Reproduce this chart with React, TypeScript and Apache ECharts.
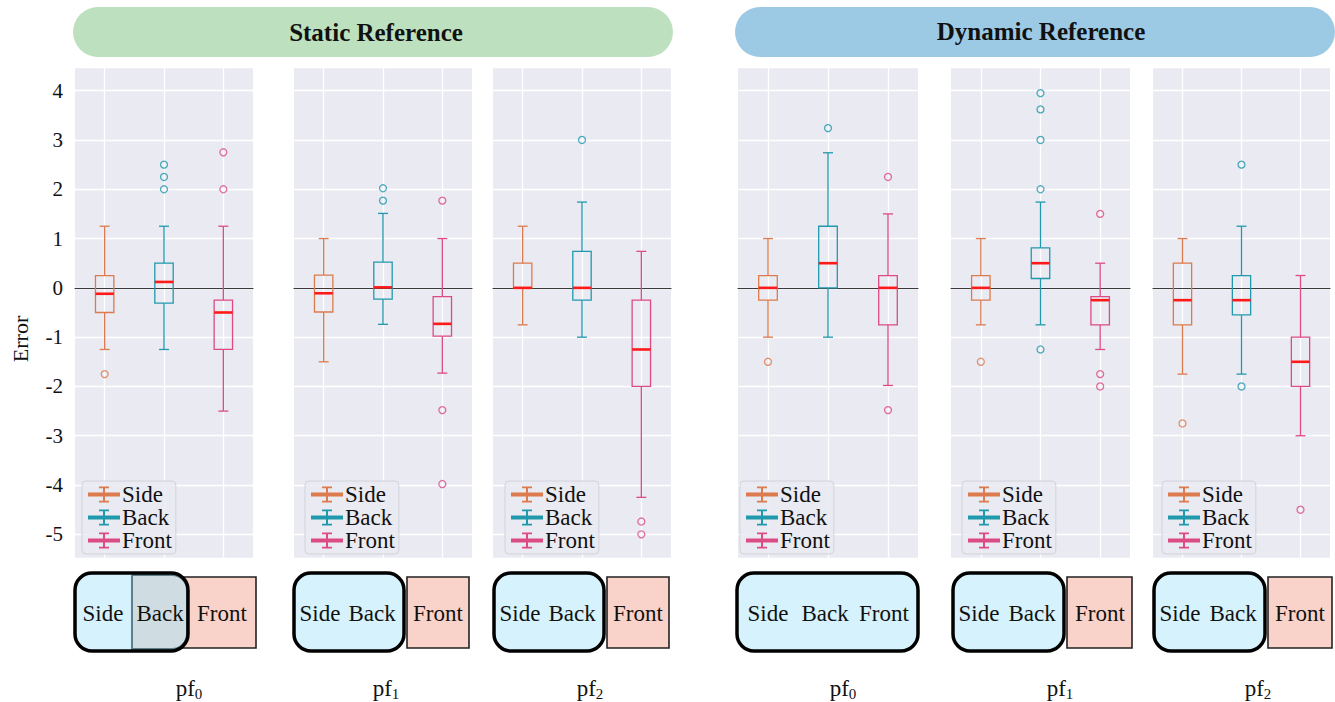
import React, { useEffect, useRef } from 'react';
import * as echarts from 'echarts';

// ---------------- data ----------------
const CATEGORIES = ['Side', 'Back', 'Front'];
const GROUP_TITLES = ['Static Reference', 'Dynamic Reference'];
const PANEL_SUBSCRIPTS = ['0', '1', '2', '0', '1', '2'];
const Y_MIN = -5.48;
const Y_MAX = 4.48;

// [min, Q1, median, Q3, max] for Side, Back, Front
const staticPf0Box = [
  [-1.25, -0.5, -0.12, 0.25, 1.25],
  [-1.25, -0.31, 0.12, 0.5, 1.25],
  [-2.5, -1.25, -0.5, -0.25, 1.25],
];
const staticPf0Outliers = [[-1.75], [2.0, 2.25, 2.5], [2.0, 2.75]];

const staticPf1Box = [
  [-1.5, -0.49, -0.11, 0.26, 1.0],
  [-0.74, -0.23, 0.01, 0.52, 1.51],
  [-1.73, -0.98, -0.73, -0.18, 1.0],
];
const staticPf1Outliers = [[], [1.77, 2.02], [1.77, -2.48, -3.98]];

const staticPf2Box = [
  [-0.75, 0.0, 0.0, 0.5, 1.25],
  [-1.0, -0.25, 0.0, 0.74, 1.74],
  [-4.25, -2.0, -1.25, -0.25, 0.74],
];
const staticPf2Outliers = [[], [3.0], [-4.74, -5.0]];

const dynamicPf0Box = [
  [-1.0, -0.25, 0.0, 0.25, 1.0],
  [-1.0, 0.0, 0.5, 1.25, 2.74],
  [-1.98, -0.75, 0.0, 0.25, 1.5],
];
const dynamicPf0Outliers = [[-1.5], [3.24], [2.25, -2.48]];

const dynamicPf1Box = [
  [-0.75, -0.25, 0.0, 0.25, 1.0],
  [-0.75, 0.19, 0.5, 0.81, 1.74],
  [-1.25, -0.75, -0.25, -0.18, 0.5],
];
const dynamicPf1Outliers = [[-1.5], [2.0, 3.0, 3.62, 3.95, -1.25], [1.5, -1.75, -2.0]];

const dynamicPf2Box = [
  [-1.75, -0.75, -0.25, 0.5, 1.0],
  [-1.75, -0.55, -0.25, 0.25, 1.25],
  [-3.0, -2.0, -1.5, -1.0, 0.25],
];
const dynamicPf2Outliers = [[-2.75], [2.5, -2.0], [-4.5]];

const PANEL_BOXES = [staticPf0Box, staticPf1Box, staticPf2Box, dynamicPf0Box, dynamicPf1Box, dynamicPf2Box];
const PANEL_OUTLIERS = [
  staticPf0Outliers, staticPf1Outliers, staticPf2Outliers,
  dynamicPf0Outliers, dynamicPf1Outliers, dynamicPf2Outliers,
];

// ---------------- layout & style ----------------
const FONT = 'Liberation Serif, DejaVu Serif, serif';
const COLORS = ['#dc7b4d', '#2199ad', '#dc4b84'];
const MEDIAN_COLOR = '#ff1a1a';
const GRID_TOP = 67;
const GRID_H = 491;
const GRID_LEFT = [75, 294, 493, 738, 951, 1153];
const GRID_W = [178, 178, 178, 180, 179, 177];
const LEGEND_LEFT = [82, 305, 505, 740, 962, 1162];
const LABEL_X = [189, 386, 590, 843, 1060, 1258];

type Diagram = {
  round: [number, number];
  front?: [number, number];
  back?: [number, number];
  textX: number[];
};
const DIAGRAMS: Diagram[] = [
  { round: [75, 188], front: [179, 256], back: [132, 187], textX: [103, 160, 222] },
  { round: [294, 404], front: [407, 469], textX: [320, 372, 438] },
  { round: [494, 604], front: [607, 669], textX: [520, 572, 638] },
  { round: [737, 918], textX: [768, 825, 884] },
  { round: [953, 1064], front: [1067, 1132], textX: [979, 1032, 1100] },
  { round: [1154, 1265], front: [1268, 1332], textX: [1180, 1233, 1300] },
];

const LEGEND_SYMBOL =
  'path://M0,8L16,8M3,0H13V1.8H3ZM7.0,0H9.0V16H7.0ZM3,14.2H13V16H3Z';

function renderBox(params: any, api: any) {
  const c = api.value(0);
  const lo = api.coord([c, api.value(1)]);
  const q1 = api.coord([c, api.value(2)]);
  const md = api.coord([c, api.value(3)]);
  const q3 = api.coord([c, api.value(4)]);
  const hi = api.coord([c, api.value(5)]);
  const band = api.size([1, 0])[0];
  const bw = band * 0.31;
  const cap = bw * 0.27;
  const x = lo[0];
  const color = COLORS[c];
  const ls = { stroke: color, lineWidth: 1.3, fill: 'none' };
  return {
    type: 'group',
    children: [
      { type: 'line', shape: { x1: x, y1: q3[1], x2: x, y2: hi[1] }, style: ls },
      { type: 'line', shape: { x1: x, y1: q1[1], x2: x, y2: lo[1] }, style: ls },
      { type: 'line', shape: { x1: x - cap, y1: hi[1], x2: x + cap, y2: hi[1] }, style: ls },
      { type: 'line', shape: { x1: x - cap, y1: lo[1], x2: x + cap, y2: lo[1] }, style: ls },
      {
        type: 'rect',
        shape: { x: x - bw / 2, y: q3[1], width: bw, height: q1[1] - q3[1] },
        style: ls,
      },
      {
        type: 'line',
        shape: { x1: x - bw / 2, y1: md[1], x2: x + bw / 2, y2: md[1] },
        style: { stroke: MEDIAN_COLOR, lineWidth: 2.6 },
      },
    ],
  };
}

function buildOption() {
  const grid: any[] = [];
  const xAxis: any[] = [];
  const yAxis: any[] = [];
  const series: any[] = [];
  const legend: any[] = [];

  for (let i = 0; i < 6; i++) {
    grid.push({
      left: GRID_LEFT[i],
      top: GRID_TOP,
      width: GRID_W[i],
      height: GRID_H,
      show: true,
      backgroundColor: '#eaeaf2',
      borderWidth: 0,
    });
    xAxis.push({
      type: 'category',
      gridIndex: i,
      data: CATEGORIES,
      boundaryGap: true,
      axisLabel: { show: false },
      axisTick: { show: false },
      axisLine: { show: true, onZero: true, lineStyle: { color: '#3a3a3a', width: 1.2 } },
      splitLine: { show: true, alignWithLabel: true, lineStyle: { color: '#ffffff', width: 1.3 } },
    });
    yAxis.push({
      type: 'value',
      gridIndex: i,
      min: Y_MIN,
      max: Y_MAX,
      splitNumber: 10,
      minInterval: 1,
      maxInterval: 1,
      axisLine: { show: false },
      axisTick: { show: false },
      axisLabel: {
        show: i === 0,
        fontSize: 21,
        fontFamily: FONT,
        color: '#111',
        margin: 12,
        formatter: (v: number) => (Math.abs(v - Math.round(v)) < 1e-6 ? String(Math.round(v)) : ''),
      },
      splitLine: { show: true, lineStyle: { color: '#ffffff', width: 1.3 } },
    });
    series.push({
      type: 'custom',
      xAxisIndex: i,
      yAxisIndex: i,
      z: 3,
      renderItem: renderBox,
      encode: { x: 0, y: [1, 2, 3, 4, 5] },
      data: PANEL_BOXES[i].map((s, c) => [c, ...s]),
    });
    const outlierData: any[] = [];
    PANEL_OUTLIERS[i].forEach((vals, c) => {
      vals.forEach((v) => {
        outlierData.push({
          value: [c, v],
          itemStyle: { color: 'rgba(0,0,0,0)', borderColor: COLORS[c], borderWidth: 1.3 },
        });
      });
    });
    series.push({
      type: 'scatter',
      xAxisIndex: i,
      yAxisIndex: i,
      z: 4,
      symbol: 'circle',
      symbolSize: 7,
      data: outlierData,
    });
    legend.push({
      orient: 'vertical',
      left: LEGEND_LEFT[i],
      top: 481,
      itemGap: 0,
      itemWidth: 32,
      itemHeight: 20,
      selectedMode: false,
      padding: [2, 4, 2, 4],
      backgroundColor: 'rgba(234,234,242,0.85)',
      borderColor: '#d2d2da',
      borderWidth: 1,
      borderRadius: 4,
      lineStyle: { width: 4 },
      textStyle: { fontSize: 23, fontFamily: FONT, color: '#111', lineHeight: 22, padding: [0, 0, 0, -3] },
      data: CATEGORIES,
    });
  }

  CATEGORIES.forEach((name, c) => {
    series.push({
      type: 'line',
      name,
      xAxisIndex: 0,
      yAxisIndex: 0,
      data: [],
      symbol: LEGEND_SYMBOL,
      color: COLORS[c],
      itemStyle: { color: COLORS[c] },
      lineStyle: { color: COLORS[c], width: 4 },
    });
  });

  // ---------- graphics ----------
  const g: any[] = [];
  g.push({ type: 'rect', z: 1, shape: { x: 73, y: 7, width: 600, height: 50, r: 25 }, style: { fill: '#bde1bf' } });
  g.push({
    type: 'text', z: 2, x: 376, y: 32,
    style: { text: GROUP_TITLES[0], fontSize: 25, fontWeight: 'bold', fontFamily: FONT, fill: '#111', align: 'center', verticalAlign: 'middle' },
  });
  g.push({ type: 'rect', z: 1, shape: { x: 735, y: 7, width: 600, height: 50, r: 25 }, style: { fill: '#9cc9e4' } });
  g.push({
    type: 'text', z: 2, x: 1041, y: 31,
    style: { text: GROUP_TITLES[1], fontSize: 25, fontWeight: 'bold', fontFamily: FONT, fill: '#111', align: 'center', verticalAlign: 'middle' },
  });

  g.push({
    type: 'text', z: 2, x: 20, y: 339, rotation: Math.PI / 2,
    style: { text: 'Error', fontSize: 22, fontFamily: FONT, fill: '#111', align: 'center', verticalAlign: 'middle' },
  });

  const DY = 573;
  const DH = 78;
  DIAGRAMS.forEach((d, i) => {
    if (d.front) {
      g.push({
        type: 'rect', z: 1,
        shape: { x: d.front[0], y: 577, width: d.front[1] - d.front[0], height: 71 },
        style: { fill: '#f9d3ca', stroke: '#222', lineWidth: 1.6 },
      });
    }
    g.push({
      type: 'rect', z: 2,
      shape: { x: d.round[0], y: DY, width: d.round[1] - d.round[0], height: DH, r: 17 },
      style: { fill: '#d6f2fc' },
    });
    if (d.back) {
      g.push({
        type: 'rect', z: 3,
        shape: { x: d.back[0], y: 575, width: d.back[1] - d.back[0], height: 74, r: [0, 15, 15, 0] },
        style: { fill: '#cfdde3', stroke: '#5f7f8b', lineWidth: 2 },
      });
    }
    g.push({
      type: 'rect', z: 4,
      shape: { x: d.round[0], y: DY, width: d.round[1] - d.round[0], height: DH, r: 17 },
      style: { fill: 'none', stroke: '#000', lineWidth: 3.5 },
    });
    d.textX.forEach((tx, c) => {
      g.push({
        type: 'text', z: 5, x: tx, y: 613,
        style: { text: CATEGORIES[c], fontSize: 23, fontFamily: FONT, fill: '#111', align: 'center', verticalAlign: 'middle' },
      });
    });
    g.push({
      type: 'text', z: 5, x: LABEL_X[i], y: 688,
      style: {
        text: `{a|pf}{b|${PANEL_SUBSCRIPTS[i]}}`,
        align: 'center',
        verticalAlign: 'middle',
        rich: {
          a: { fontSize: 23, fontFamily: FONT, fill: '#111', lineHeight: 26 },
          b: { fontSize: 15, fontFamily: FONT, fill: '#111', lineHeight: 14, verticalAlign: 'bottom' },
        },
      },
    });
  });

  return {
    animation: false,
    backgroundColor: '#ffffff',
    textStyle: { fontFamily: FONT },
    grid,
    xAxis,
    yAxis,
    legend,
    series,
    graphic: { elements: g },
  };
}

export default function App() {
  const ref = useRef<HTMLDivElement>(null);
  useEffect(() => {
    if (!ref.current) return;
    const chart = echarts.init(ref.current, undefined, { renderer: 'svg' });
    chart.setOption(buildOption() as any);
    return () => chart.dispose();
  }, []);
  return (
    <div
      ref={ref}
      style={{ position: 'fixed', left: 0, top: 0, width: 1335, height: 702, background: '#fff' }}
    />
  );
}
